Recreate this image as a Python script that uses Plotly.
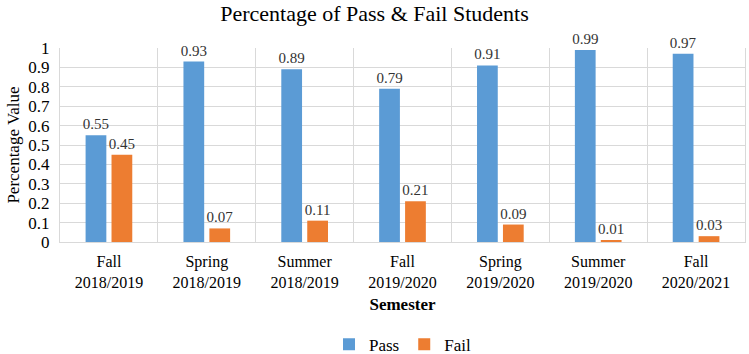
import plotly.graph_objects as go

semesters = ["Fall<br>2018/2019", "Spring<br>2018/2019", "Summer<br>2018/2019",
             "Fall<br>2019/2020", "Spring<br>2019/2020", "Summer<br>2019/2020",
             "Fall<br>2020/2021"]
pass_vals = [0.55, 0.93, 0.89, 0.79, 0.91, 0.99, 0.97]
fail_vals = [0.45, 0.07, 0.11, 0.21, 0.09, 0.01, 0.03]
y_ticks = [0, 0.1, 0.2, 0.3, 0.4, 0.5, 0.6, 0.7, 0.8, 0.9, 1]
y_tick_text = ["0", "0.1", "0.2", "0.3", "0.4", "0.5", "0.6", "0.7", "0.8", "0.9", "1"]

FONT = "Times New Roman, Liberation Serif, serif"

fig = go.Figure()
fig.add_trace(go.Bar(name="Pass", x=semesters, y=pass_vals, marker_color="#5B9BD5",
                     text=[f"{v:.2f}" for v in pass_vals], textposition="outside",
                     constraintext="none",
                     textfont=dict(family=FONT, size=15, color="#333333"), cliponaxis=False))
fig.add_trace(go.Bar(name="Fail", x=semesters, y=fail_vals, marker_color="#ED7D31",
                     text=[f"{v:.2f}" for v in fail_vals], textposition="outside",
                     constraintext="none",
                     textfont=dict(family=FONT, size=15, color="#333333"), cliponaxis=False))

fig.update_layout(
    template="none",
    width=749, height=354,
    margin=dict(l=60, r=4, t=48, b=112, autoexpand=False),
    paper_bgcolor="white", plot_bgcolor="white",
    barmode="group", bargap=0.47, bargroupgap=0.2,
    font=dict(family=FONT, color="#000000", size=16),
    title=dict(text="Percentage of Pass &amp; Fail Students", x=0.5, xanchor="center",
               y=0.962, yanchor="middle", font=dict(family=FONT, size=22, color="#000000")),
    xaxis=dict(title=dict(text="<b>Semester</b>", font=dict(family=FONT, size=17), standoff=8),
               tickfont=dict(size=16, color="#000000"), tickson="boundaries", showgrid=True,
               gridcolor="#D9D9D9", gridwidth=1, ticks="", showline=True, linecolor="#D9D9D9",
               zeroline=False, ticklabelstandoff=5, automargin=False),
    yaxis=dict(title=dict(text="Percentage Value", font=dict(family=FONT, size=17), standoff=4),
               range=[0, 1], tickvals=y_ticks, ticktext=y_tick_text,
               tickfont=dict(size=17, color="#000000"), showgrid=True, gridcolor="#D9D9D9",
               zeroline=False, showline=True, linecolor="#D9D9D9", mirror=True, ticks="",
               ticklabelstandoff=6, automargin=False),
    legend=dict(orientation="h", x=0.5, xanchor="center", y=-0.53, yanchor="middle",
                font=dict(size=17, color="#000000"), itemwidth=30),
    showlegend=True,
)

fig.write_html("out.html", config={"displayModeBar": False},
               post_script="document.body.style.margin='0';")
